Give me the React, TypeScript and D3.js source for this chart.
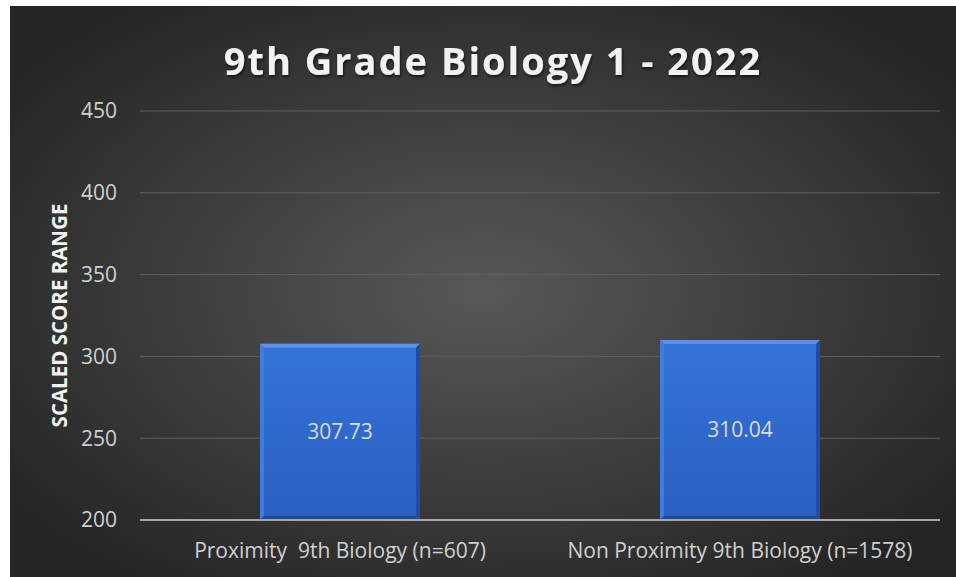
import { useEffect, useRef } from "react";
import * as d3 from "d3";

const categories = ["Proximity  9th Biology (n=607)", "Non Proximity 9th Biology (n=1578)"];
const scores = [307.73, 310.04];
const yTicks = [200, 250, 300, 350, 400, 450];
const chartTitle = "9th Grade Biology 1 - 2022";
const yTitle = "SCALED SCORE RANGE";

export default function App() {
  const svgRef = useRef<SVGSVGElement>(null);

  useEffect(() => {
    if (!svgRef.current) return;
    const svg = d3.select(svgRef.current);
    svg.selectAll("*").remove();

    const width = 956;
    const height = 577;
    const margin = { left: 140, right: 16, top: 111, bottom: 57 };
    const font = "Open Sans, Calibri, sans-serif";

    const defs = svg.append("defs");
    const bg = defs
      .append("radialGradient")
      .attr("id", "bg")
      .attr("cx", "50%")
      .attr("cy", "50%")
      .attr("r", "62%");
    bg.append("stop").attr("offset", "0%").attr("stop-color", "#585858");
    bg.append("stop").attr("offset", "100%").attr("stop-color", "#252525");

    const barGrad = defs
      .append("linearGradient")
      .attr("id", "bar")
      .attr("x1", 0)
      .attr("y1", 0)
      .attr("x2", 0)
      .attr("y2", 1);
    barGrad.append("stop").attr("offset", "0%").attr("stop-color", "#3473da");
    barGrad.append("stop").attr("offset", "100%").attr("stop-color", "#2a5fbf");

    const shadow = defs.append("filter").attr("id", "shadow");
    shadow
      .append("feDropShadow")
      .attr("dx", 1)
      .attr("dy", 2)
      .attr("stdDeviation", 1.5)
      .attr("flood-color", "#000")
      .attr("flood-opacity", 0.6);

    // Background
    svg
      .append("rect")
      .attr("x", 10)
      .attr("y", 6)
      .attr("width", width - 10)
      .attr("height", height - 6)
      .attr("fill", "url(#bg)");

    const x = d3
      .scaleBand()
      .domain(categories)
      .range([margin.left, width - margin.right])
      .paddingInner(0.6)
      .paddingOuter(0.3);

    const y = d3
      .scaleLinear()
      .domain([200, 450])
      .range([height - margin.bottom, margin.top]);

    // Gridlines
    svg
      .append("g")
      .selectAll("line")
      .data(yTicks.slice(1))
      .join("line")
      .attr("x1", margin.left)
      .attr("x2", width - margin.right)
      .attr("y1", (d) => y(d))
      .attr("y2", (d) => y(d))
      .attr("stroke", "#5e5e5e")
      .attr("stroke-width", 1);

    // Tick labels
    svg
      .append("g")
      .selectAll("text")
      .data(yTicks)
      .join("text")
      .attr("x", 117)
      .attr("y", (d) => y(d))
      .attr("dy", "0.35em")
      .attr("text-anchor", "end")
      .attr("fill", "#d0d0d0")
      .attr("font-family", font)
      .attr("font-size", "21px")
      .text((d) => d);

    // Bars
    const bars = svg.append("g");
    categories.forEach((c, i) => {
      const bx = x(c)!;
      const bw = x.bandwidth();
      const by = y(scores[i]);
      const bh = y(200) - by;
      const b = 4;
      bars
        .append("rect")
        .attr("x", bx)
        .attr("y", by)
        .attr("width", bw)
        .attr("height", bh)
        .attr("fill", "url(#bar)");
      // bevel edges
      bars
        .append("polygon")
        .attr("points", `${bx},${by} ${bx + bw},${by} ${bx + bw - b},${by + b} ${bx + b},${by + b}`)
        .attr("fill", "#5b8fe8");
      bars
        .append("polygon")
        .attr("points", `${bx},${by} ${bx + b},${by + b} ${bx + b},${by + bh - b} ${bx},${by + bh}`)
        .attr("fill", "#3f7ce0");
      bars
        .append("polygon")
        .attr("points", `${bx + bw},${by} ${bx + bw - b},${by + b} ${bx + bw - b},${by + bh - b} ${bx + bw},${by + bh}`)
        .attr("fill", "#1f4da3");
      bars
        .append("polygon")
        .attr("points", `${bx},${by + bh} ${bx + b},${by + bh - b} ${bx + bw - b},${by + bh - b} ${bx + bw},${by + bh}`)
        .attr("fill", "#1e4a9c");

      bars
        .append("text")
        .attr("x", bx + bw / 2)
        .attr("y", y(scores[i]) + bh / 2)
        .attr("dy", "0.35em")
        .attr("text-anchor", "middle")
        .attr("fill", "#dcdcdc")
        .attr("font-family", font)
        .attr("font-size", "21px")
        .text(scores[i].toFixed(2));
    });

    // Axis line
    svg
      .append("line")
      .attr("x1", margin.left)
      .attr("x2", width - margin.right)
      .attr("y1", y(200))
      .attr("y2", y(200))
      .attr("stroke", "#a6a6a6")
      .attr("stroke-width", 2);

    // Category labels
    svg
      .append("g")
      .selectAll("text")
      .data(categories)
      .join("text")
      .attr("x", (d) => x(d)! + x.bandwidth() / 2)
      .attr("y", 558)
      .attr("text-anchor", "middle")
      .attr("fill", "#d0d0d0")
      .attr("font-family", font)
      .attr("font-size", "21px")
      .style("white-space", "pre")
      .text((d) => d);

    // Y title
    svg
      .append("text")
      .attr("transform", `translate(67,${(y(200) + y(450)) / 2}) rotate(-90)`)
      .attr("text-anchor", "middle")
      .attr("fill", "#f2f2f2")
      .attr("font-family", font)
      .attr("font-weight", "bold")
      .attr("font-size", "20.5px")
      .text(yTitle);

    // Title
    svg
      .append("text")
      .attr("x", 493)
      .attr("y", 75)
      .attr("text-anchor", "middle")
      .attr("fill", "#f2f2f2")
      .attr("font-family", font)
      .attr("font-weight", "bold")
      .attr("font-size", "38px")
      .attr("letter-spacing", "2px")
      .attr("filter", "url(#shadow)")
      .text(chartTitle);
  }, []);

  return (
    <svg
      ref={svgRef}
      width={956}
      height={577}
      style={{ position: "absolute", left: 0, top: 0 }}
    ></svg>
  );
}
